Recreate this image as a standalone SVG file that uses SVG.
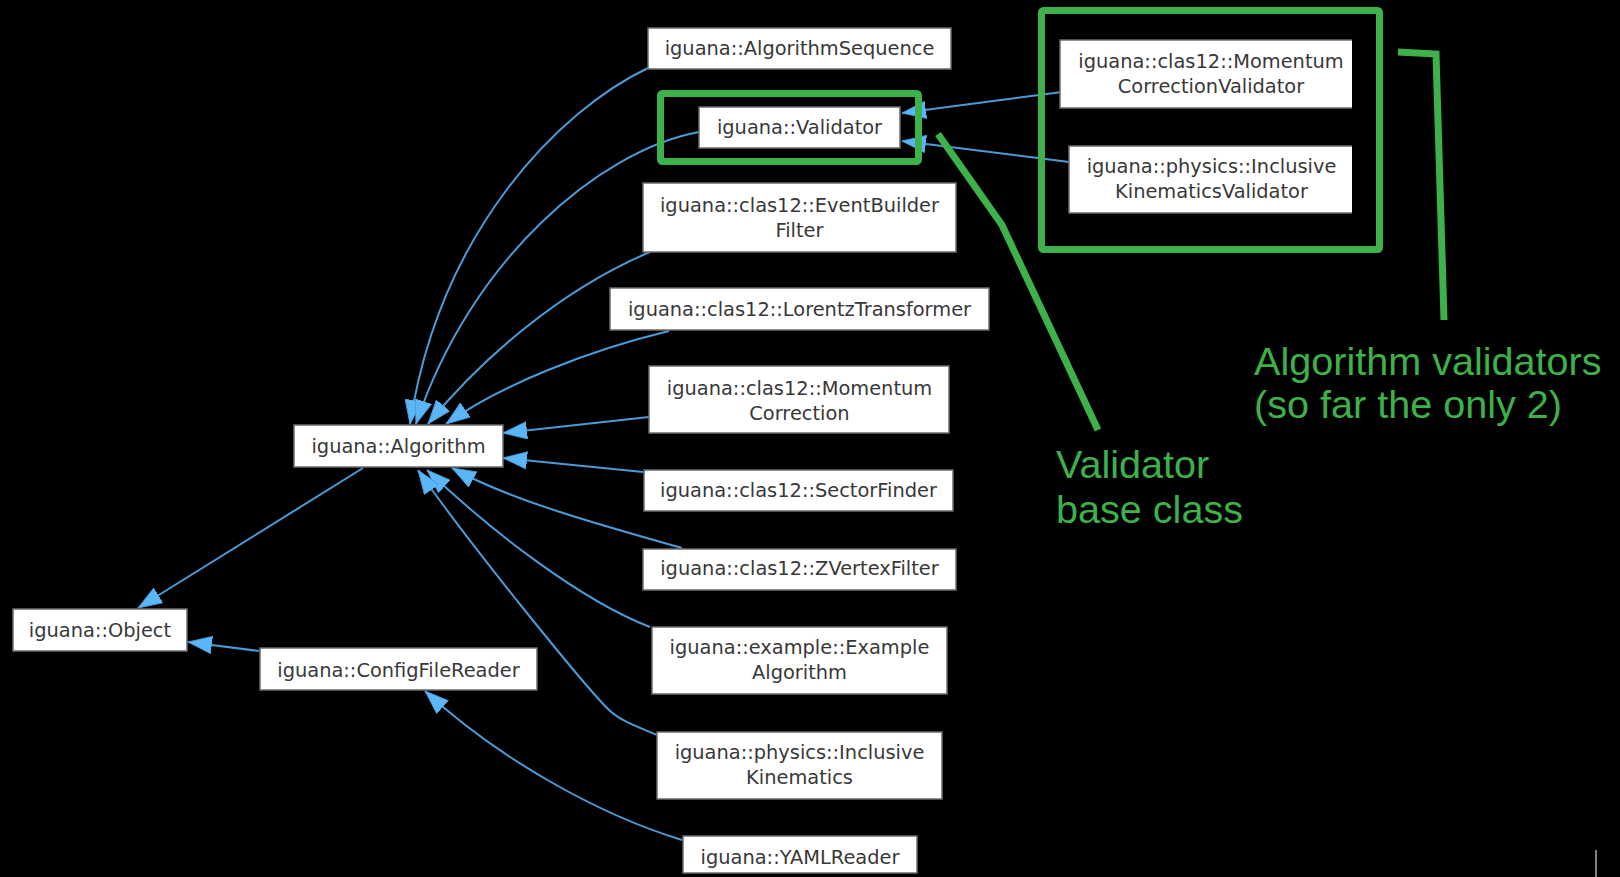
<svg xmlns="http://www.w3.org/2000/svg" width="1620" height="877" viewBox="0 0 1620 877">
<style>
.bg{fill:#000}
.node rect{fill:#fff;stroke:#6b6b6b;stroke-width:1.5}
.node path.b{fill:none;stroke:#6b6b6b;stroke-width:1.5}
.node text{font-family:"DejaVu Sans",sans-serif;font-size:19.4px;fill:#383838;text-anchor:middle}
.edge{fill:none;stroke:#4a9bd8;stroke-width:2;marker-end:url(#arr)}
.ann{fill:none;stroke:#3db14a;stroke-width:7;stroke-linejoin:miter}
.note{font-family:"Liberation Sans",Arial,sans-serif;font-size:39.6px;fill:#3db14a}
</style>
<defs>
<marker id="arr" markerUnits="userSpaceOnUse" markerWidth="24" markerHeight="18" viewBox="0 0 22 16" refX="22" refY="8" orient="auto">
<path d="M0,0 L22,8 L0,16 z" fill="#5ab6f7" stroke="#4a9bd8" stroke-width="0.8"/>
</marker>
</defs>
<rect class="bg" x="0" y="0" width="1620" height="877"/>

<g id="connectors">
<path class="edge" d="M648,68 C560,110 440,230 410,424"/>
<path class="edge" d="M699,132 C600,150 470,260 416,424"/>
<path class="edge" d="M650,252 C560,290 480,360 428,424"/>
<path class="edge" d="M669,331 C590,350 500,385 446,424"/>
<path class="edge" d="M649,417 L503,433"/>
<path class="edge" d="M643,472 L503,458"/>
<path class="edge" d="M682,548 C600,525 510,500 452,468"/>
<path class="edge" d="M650,627 C580,600 490,530 427,470"/>
<path class="edge" d="M657,735 C635,726 618,720 606,707 C580,680 470,545 418,470"/>
<path class="edge" d="M682,840 C600,815 500,760 425,691"/>
<path class="edge" d="M363,468 L138,608"/>
<path class="edge" d="M259,651 L188,642"/>
<path class="edge" d="M1062,92 L902,113"/>
<path class="edge" d="M1069,162 L902,141"/>
</g>

<g id="n-algseq" class="node"><rect x="648" y="28" width="303" height="41"/><text x="799.5" y="55">iguana::AlgorithmSequence</text></g>
<g id="n-validator" class="node"><rect x="699" y="107" width="201" height="41"/><text x="799.5" y="134">iguana::Validator</text></g>
<g id="n-ebfilter" class="node"><rect x="643" y="183" width="313" height="69"/><text x="799.5" y="212">iguana::clas12::EventBuilder</text><text x="799.5" y="237">Filter</text></g>
<g id="n-lorentz" class="node"><rect x="610" y="288" width="379" height="42"/><text x="799.5" y="316">iguana::clas12::LorentzTransformer</text></g>
<g id="n-momcorr" class="node"><rect x="649" y="366" width="300" height="67"/><text x="799.5" y="395">iguana::clas12::Momentum</text><text x="799.5" y="420">Correction</text></g>
<g id="n-sector" class="node"><rect x="644" y="470" width="309" height="41"/><text x="798.5" y="497">iguana::clas12::SectorFinder</text></g>
<g id="n-zvertex" class="node"><rect x="643" y="549" width="313" height="41"/><text x="799.5" y="575">iguana::clas12::ZVertexFilter</text></g>
<g id="n-example" class="node"><rect x="652" y="627" width="295" height="67"/><text x="799.5" y="654">iguana::example::Example</text><text x="799.5" y="679">Algorithm</text></g>
<g id="n-inclkin" class="node"><rect x="657" y="732" width="285" height="67"/><text x="799.5" y="759">iguana::physics::Inclusive</text><text x="799.5" y="784">Kinematics</text></g>
<g id="n-yaml" class="node"><rect x="683" y="836" width="234" height="37"/><text x="800" y="864">iguana::YAMLReader</text></g>
<g id="n-algorithm" class="node"><rect x="294" y="425" width="209" height="42"/><text x="398.5" y="453">iguana::Algorithm</text></g>
<g id="n-object" class="node"><rect x="13" y="609" width="174" height="42"/><text x="100" y="637">iguana::Object</text></g>
<g id="n-config" class="node"><rect x="260" y="648" width="277" height="42"/><text x="398.5" y="677">iguana::ConfigFileReader</text></g>
<g id="n-mcv" class="node"><rect x="1060" y="40" width="292" height="68" style="stroke:none"/><path class="b" d="M1352,40 H1060 V108 H1352"/><text x="1211" y="68">iguana::clas12::Momentum</text><text x="1211" y="93">CorrectionValidator</text></g>
<g id="n-ikv" class="node"><rect x="1069" y="146" width="283" height="67" style="stroke:none"/><path class="b" d="M1352,146 H1069 V213 H1352"/><text x="1211.5" y="173">iguana::physics::Inclusive</text><text x="1211.5" y="198">KinematicsValidator</text></g>

<g id="annotations">
<rect class="ann" x="660.5" y="93.5" width="258" height="68" rx="2"/>
<rect class="ann" x="1041.5" y="10.5" width="338" height="239" rx="2"/>
<polyline class="ann" points="938,134 1002,225 1098,430"/>
<polyline class="ann" points="1398,52 1436,54 1444,320"/>
<text class="note" x="1056" y="478">Validator</text>
<text class="note" x="1056" y="523">base class</text>
<text class="note" x="1254" y="375">Algorithm validators</text>
<text class="note" x="1254" y="418">(so far the only 2)</text>
<line x1="1596" y1="850" x2="1596" y2="877" stroke="#aaa" stroke-width="1.5"/>
</g>
</svg>
